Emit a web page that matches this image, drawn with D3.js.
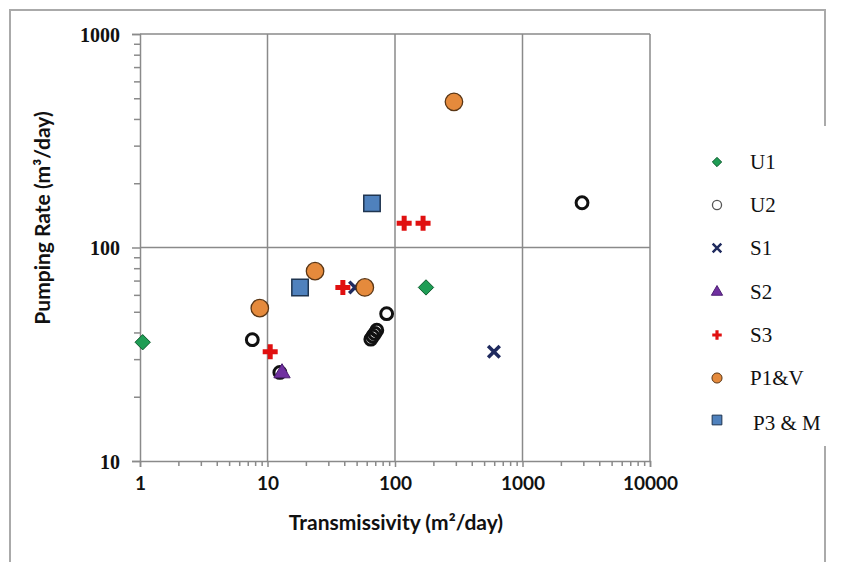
<!DOCTYPE html>
<html><head><meta charset="utf-8">
<script src="https://cdn.jsdelivr.net/npm/d3@7"></script>
<style>body{margin:0;background:#fff}svg{display:block}</style>
</head><body>
<script>
// Data (Transmissivity m2/day, Pumping rate m3/day)
const U1 = [[1.05,36],[175,65]];
const U2 = [[7.6,37],[12.5,26],[86,49],[72,41],[69.5,39.6],[67,38.4],[64.6,37.2],[2930,162]];
const S1 = [[48.6,65],[597,32.5]];
const S2 = [[13,25.8]];
const S3 = [[10.5,32.5],[39,65],[118,130],[166,130]];
const P1V = [[8.7,52],[23.6,77.5],[58,65],[290,481]];
const P3M = [[18,65],[66,161]];
const xTicks = [1,10,100,1000,10000];
const yTicks = [10,100,1000];
const seriesNames = ["U1","U2","S1","S2","S3","P1&V","P3 & M"];

const W=841,H=562;
const svg=d3.select("body").append("svg").attr("width",W).attr("height",H);
const x=d3.scaleLog().domain([1,10000]).range([140,650]);
const y=d3.scaleLog().domain([10,1000]).range([461,34]);

// frame
svg.append("path").attr("d","M10,562 L10,10 L825,10 L825,126 M825,446 L825,562")
  .attr("fill","none").attr("stroke","#aaa").attr("stroke-width",2);

// gridlines
const grid=svg.append("g").attr("stroke","#8a8a8a").attr("stroke-width",1.5);
grid.selectAll("line.v").data(xTicks.slice(1)).join("line")
  .attr("x1",d=>x(d)).attr("x2",d=>x(d)).attr("y1",y(1000)).attr("y2",y(10));
grid.selectAll("line.h").data(yTicks.slice(1)).join("line")
  .attr("y1",d=>y(d)).attr("y2",d=>y(d)).attr("x1",x(1)).attr("x2",x(10000));

// axes
const minorX=[];for(let p=0;p<4;p++)for(let k=2;k<=9;k++)minorX.push(k*Math.pow(10,p));
const minorY=[];for(let p=1;p<3;p++)for(let k=2;k<=9;k++)minorY.push(k*Math.pow(10,p));

const xa=svg.append("g").attr("transform",`translate(0,${y(10)})`)
  .call(d3.axisBottom(x).tickValues(xTicks).tickFormat(d3.format("d")).tickSize(6).tickPadding(10));
const xm=svg.append("g").attr("transform",`translate(0,${y(10)})`)
  .call(d3.axisBottom(x).tickValues(minorX).tickFormat("").tickSize(5));
const ya=svg.append("g").attr("transform",`translate(${x(1)},0)`)
  .call(d3.axisLeft(y).tickValues(yTicks).tickFormat(d3.format("d")).tickSize(8).tickPadding(12));
const ym=svg.append("g").attr("transform",`translate(${x(1)},0)`)
  .call(d3.axisLeft(y).tickValues(minorY).tickFormat("").tickSize(6));
[xa,xm,ya,ym].forEach(g=>{g.selectAll("path,line").attr("stroke","#8a8a8a").attr("stroke-width",1.5);});
xm.select(".domain").remove(); ym.select(".domain").remove();
xa.selectAll("text").attr("font-family","Lato, 'Open Sans', sans-serif").attr("font-weight","bold")
  .attr("font-size",19).attr("fill","#111");
ya.selectAll("text").attr("font-family","'Liberation Serif', serif").attr("font-weight","bold")
  .attr("font-size",20).attr("fill","#111").attr("dy","0.35em");

// axis titles
svg.append("text").attr("x",396).attr("y",530).attr("text-anchor","middle")
  .attr("font-family","Lato, 'Open Sans', sans-serif").attr("font-weight","bold").attr("font-size",21).attr("fill","#111")
  .text("Transmissivity (m²/day)");
svg.append("text").attr("transform","translate(50,218) rotate(-90)").attr("text-anchor","middle")
  .attr("font-family","Lato, 'Open Sans', sans-serif").attr("font-weight","bold").attr("font-size",21).attr("fill","#111")
  .text("Pumping Rate (m³/day)");

// marker definitions
const styles={
  "U1":{type:d3.symbolDiamond2,size:150,fill:"#1f9d55",stroke:"#0d5c2e",sw:1},
  "U2":{type:d3.symbolCircle,size:110,fill:"none",stroke:"#111",sw:3},
  "S1":{type:d3.symbolTimes,size:90,fill:"none",stroke:"#1f2a5e",sw:3.5},
  "S2":{type:d3.symbolTriangle2,size:190,fill:"#7030a0",stroke:"#4d1f73",sw:1},
  "S3":{type:d3.symbolCross,size:125,fill:"#e01010",stroke:"none",sw:0},
  "P1&V":{type:d3.symbolCircle,size:240,fill:"#e58a3c",stroke:"#5a3615",sw:1.3},
  "P3 & M":{type:d3.symbolSquare,size:270,fill:"#4f81bd",stroke:"#1f3550",sw:1.5}
};
const legendSize={"U1":55,"U2":65,"S1":50,"S2":90,"S3":50,"P1&V":80,"P3 & M":95};
const legendSW={"U1":1,"U2":1.3,"S1":2.5,"S2":1,"S3":0,"P1&V":1,"P3 & M":1};
const seriesData=[U1,U2,S1,S2,S3,P1V,P3M];

const pts=svg.append("g");
seriesData.forEach((data,i)=>{
  const s=styles[seriesNames[i]];
  pts.selectAll(null).data(data).join("path")
    .attr("transform",d=>`translate(${x(d[0])},${y(d[1])})`)
    .attr("d",d3.symbol(s.type,s.size)())
    .attr("fill",s.fill).attr("stroke",s.stroke).attr("stroke-width",s.sw);
});

// legend
const lg=svg.append("g");
lg.append("rect").attr("x",690).attr("y",126).attr("width",151).attr("height",320).attr("fill","#fff");
const rowY=[162,205,248,292,335,378,420];
seriesNames.forEach((n,i)=>{
  const s=styles[n];
  lg.append("path").attr("transform",`translate(717,${rowY[i]})`)
    .attr("d",d3.symbol(s.type,legendSize[n])())
    .attr("fill",s.fill).attr("stroke",n==="U2"?"#555":s.stroke).attr("stroke-width",legendSW[n]);
  lg.append("text").attr("x",n==="P3 & M"?753:750).attr("y",rowY[i]+(n==="P3 & M"?3:0)).attr("dy","0.35em")
    .attr("font-family","'Liberation Serif', 'Times New Roman', serif").attr("font-size",21).attr("fill","#111")
    .text(n);
});
</script>
</body></html>
